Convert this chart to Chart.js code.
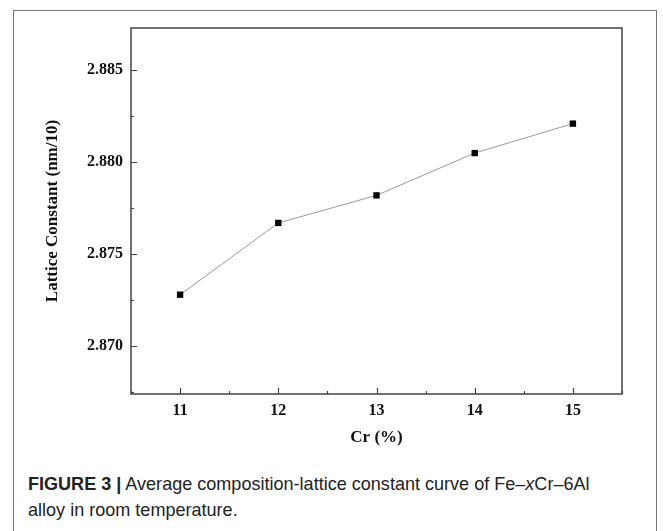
<!DOCTYPE html>
<html>
<head>
<meta charset="utf-8">
<script src="https://cdn.jsdelivr.net/npm/chart.js@4.4.1/dist/chart.umd.min.js"></script>
<style>
  html, body { margin: 0; padding: 0; background: #fff; }
  body { width: 663px; height: 531px; position: relative; overflow: hidden; }
  #frame {
    position: absolute; left: 13px; top: 10px; width: 644px; height: 560px;
    border: 1px solid #777; box-sizing: border-box;
  }
  #wrap { position: absolute; left: 0; top: 0; width: 663px; height: 460px; }
  #caption {
    position: absolute; left: 28px; top: 471px; width: 660px;
    font-family: "Liberation Sans", Arial, sans-serif;
    font-size: 19px; line-height: 26px; color: #222;
    transform: scaleX(0.95); transform-origin: left top;
  }
</style>
</head>
<body>
<div id="frame"></div>
<div id="wrap"><canvas id="chart" width="663" height="460"></canvas></div>
<div id="caption"><b>FIGURE 3 |</b> Average composition-lattice constant curve of Fe–<i>x</i>Cr–6Al<br>alloy in room temperature.</div>

<script>
// data
var crPercent = [11, 12, 13, 14, 15];
var latticeConst = [2.8728, 2.8767, 2.8782, 2.8805, 2.8821];

var xRange = [10.5, 15.5];
var yRange = [2.8674, 2.8873];

var serif = '"Liberation Serif", "Times New Roman", serif';

// frame + inward ticks
var frameTicks = {
    id: 'frameTicks',
    afterDraw: function(chart) {
        var ctx = chart.ctx;
        var a = chart.chartArea;
        var xs = chart.scales.x, ys = chart.scales.y;
        ctx.save();
        ctx.strokeStyle = '#444';
        ctx.lineWidth = 1.5;
        ctx.strokeRect(a.left, a.top, a.right - a.left, a.bottom - a.top);
        ctx.lineWidth = 1.2;
        ctx.beginPath();
        xs.ticks.forEach(function(t) {
            var px = Math.round(xs.getPixelForValue(t.value)) + 0.5;
            var len = Number.isInteger(t.value) ? 6 : 3;
            ctx.moveTo(px, a.bottom);
            ctx.lineTo(px, a.bottom - len);
        });
        ys.ticks.forEach(function(t) {
            var py = Math.round(ys.getPixelForValue(t.value)) + 0.5;
            var major = Math.abs(t.value * 200 - Math.round(t.value * 200)) < 1e-6;
            ctx.moveTo(a.left, py);
            ctx.lineTo(a.left + (major ? 6 : 3), py);
        });
        ctx.stroke();
        ctx.restore();
    }
};

var pts = crPercent.map(function(c, i) { return {x: c, y: latticeConst[i]}; });

new Chart(document.getElementById('chart'), {
    type: 'scatter',
    data: {
        datasets: [{
            data: pts,
            showLine: true,
            borderColor: '#9a9a9a',
            borderWidth: 1,
            pointStyle: 'rect',
            pointRadius: 4.5,
            pointBackgroundColor: '#000',
            pointBorderColor: '#000',
            pointBorderWidth: 0
        }]
    },
    options: {
        animation: false,
        responsive: false,
        layout: { padding: { top: 28, right: 41, left: 0, bottom: 0 } },
        plugins: { legend: { display: false }, tooltip: { enabled: false } },
        scales: {
            x: {
                type: 'linear',
                min: xRange[0], max: xRange[1],
                grid: { display: false, drawTicks: false },
                border: { display: false },
                afterFit: function(s) { s.height = 66; },
                ticks: {
                    stepSize: 0.5, includeBounds: false, autoSkip: false, maxRotation: 0,
                    padding: 7, color: '#111',
                    font: { family: serif, size: 16, weight: 'bold' },
                    callback: function(v) { return Number.isInteger(v) ? String(v) : ''; }
                },
                title: {
                    display: true, text: 'Cr (%)', color: '#111',
                    font: { family: serif, size: 17, weight: 'bold' },
                    padding: { top: 0, bottom: 12 }
                }
            },
            y: {
                type: 'linear',
                min: yRange[0], max: yRange[1],
                grid: { display: false, drawTicks: false },
                border: { display: false },
                afterFit: function(s) { s.width = 131; },
                ticks: {
                    stepSize: 0.0025, includeBounds: false, autoSkip: false,
                    padding: 8, color: '#111',
                    font: { family: serif, size: 16, weight: 'bold' },
                    callback: function(v) {
                        return Math.abs(v * 200 - Math.round(v * 200)) < 1e-6 ? v.toFixed(3) : '';
                    }
                },
                title: {
                    display: true, text: 'Lattice Constant (nm/10)', color: '#111',
                    font: { family: serif, size: 17, weight: 'bold' },
                    padding: { top: 42, bottom: 0 }
                }
            }
        }
    },
    plugins: [frameTicks]
});
</script>
</body>
</html>
